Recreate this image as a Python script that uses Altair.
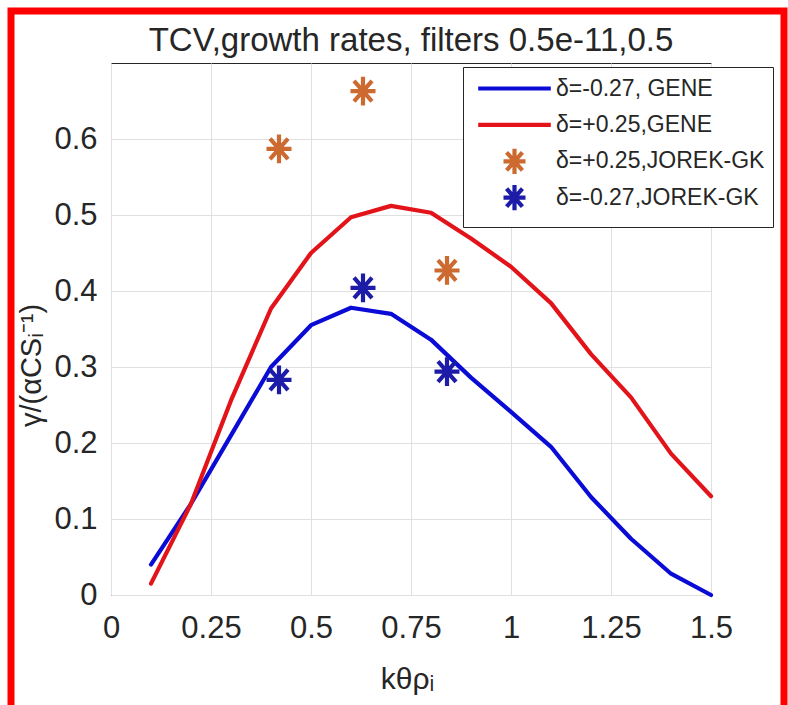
import altair as alt
import pandas as pd

# GENE linear growth rates versus k_theta * rho_i
k_gene = [0.1, 0.2, 0.3, 0.4, 0.5, 0.6, 0.7, 0.8, 0.9, 1.0, 1.1, 1.2, 1.3, 1.4, 1.5]
gamma_gene_neg = [0.04, 0.12, 0.21, 0.30, 0.355, 0.378, 0.37, 0.336, 0.286, 0.241,
                  0.195, 0.129, 0.074, 0.028, 0.0]
gamma_gene_pos = [0.015, 0.12, 0.256, 0.377, 0.45, 0.497, 0.512, 0.503, 0.469, 0.432,
                  0.384, 0.317, 0.26, 0.186, 0.13]

# JOREK-GK growth rates
k_jorek = [0.42, 0.63, 0.84]
gamma_jorek_pos = [0.587, 0.663, 0.427]
gamma_jorek_neg = [0.283, 0.404, 0.294]

series_names = ["δ=-0.27, GENE", "δ=+0.25,GENE", "δ=+0.25,JOREK-GK", "δ=-0.27,JOREK-GK"]
series_colors = ["#0b0bd6", "#e2141a", "#cc6a30", "#1c1ca8"]
series_widths = [4.2, 4.2, 1.4, 1.4]

# asterisk marker and a long stroke used for the line entries of the legend
STAR = "M-1,0L1,0M0,-1.15L0,1.15M-0.72,-0.82L0.72,0.82M-0.72,0.82L0.72,-0.82"
LINE = "M-3.3,0L3.3,0"
series_shapes = [LINE, LINE, STAR, STAR]

x_ticks = [0, 0.25, 0.5, 0.75, 1, 1.25, 1.5]
y_ticks = [0, 0.1, 0.2, 0.3, 0.4, 0.5, 0.6]

FONT = "Liberation Sans"
INK = "#262626"

gene = pd.DataFrame({
    "k": k_gene + k_gene,
    "gamma": gamma_gene_neg + gamma_gene_pos,
    "series": [series_names[0]] * len(k_gene) + [series_names[1]] * len(k_gene),
})
jorek = pd.DataFrame({
    "k": k_jorek + k_jorek,
    "gamma": gamma_jorek_pos + gamma_jorek_neg,
    "series": [series_names[2]] * len(k_jorek) + [series_names[3]] * len(k_jorek),
})

legend = alt.Legend(title=None)
color = alt.Color("series:N", scale=alt.Scale(domain=series_names, range=series_colors), legend=legend)
stroke_w = alt.StrokeWidth("series:N", scale=alt.Scale(domain=series_names, range=series_widths), legend=legend)
shape = alt.Shape("series:N", scale=alt.Scale(domain=series_names, range=series_shapes), legend=legend)

x = alt.X(
    "k:Q",
    scale=alt.Scale(domain=[0, 1.5], nice=False),
    axis=alt.Axis(values=x_ticks, format=".3~g", title="kθρᵢ", labelPadding=18, labelFlush=False,
                  titleX=296, titleY=93, titleBaseline="alphabetic", titleFontSize=30),
)
y = alt.Y(
    "gamma:Q",
    scale=alt.Scale(domain=[0, 0.7], nice=False),
    axis=alt.Axis(values=y_ticks, format=".3~g", title="γ/(αCSᵢ⁻¹)", labelPadding=14,
                  labelFlush=False,
                  titleX=-71, titleY=302, titleAngle=270, titleAlign="center",
                  titleBaseline="alphabetic", titleFontSize=29),
)

lines = alt.Chart(gene).mark_line(strokeJoin="round", strokeCap="round").encode(
    x=x, y=y, color=color, strokeWidth=stroke_w
)
stars = alt.Chart(jorek).mark_point(filled=False, size=625, opacity=1).encode(
    x=x, y=y, color=color, shape=shape, strokeWidth=stroke_w
)

# red outline around the figure
frame = alt.Chart(pd.DataFrame({"f": [0]})).mark_rect(
    filled=False, stroke="#ff0000", strokeWidth=7
).encode(x=alt.value(-100), x2=alt.value(673), y=alt.value(-52), y2=alt.value(670))

chart = (
    alt.layer(lines, stars, frame)
    .properties(
        width=600,
        height=532,
        autosize=alt.AutoSizeParams(type="none"),
        padding={"left": 111, "top": 63, "right": 77, "bottom": 110},
        title=alt.TitleParams(
            "TCV,growth rates, filters 0.5e-11,0.5",
            font=FONT, fontSize=33, fontWeight="normal", color=INK,
            anchor="middle", frame="group", baseline="alphabetic", offset=0, dy=76,
        ),
    )
    .configure(background="white")
    .configure_view(stroke=INK, strokeWidth=1)
    .configure_axis(
        labelFont=FONT, labelFontSize=31, labelColor=INK,
        titleFont=FONT, titleFontWeight="normal", titleColor=INK,
        gridColor="#e0e0e0", gridWidth=1, domain=False, ticks=False,
    )
    .configure_legend(
        orient="none", legendX=352, legendY=4,
        fillColor="white", strokeColor=INK, padding=8,
        labelFont=FONT, labelFontSize=23, labelColor=INK, labelLimit=400,
        symbolSize=484, symbolOffset=30, rowPadding=-6.6, labelOffset=28,
        gridAlign="all",
    )
)

chart.save("out.html", embed_options={"renderer": "svg", "actions": False})
